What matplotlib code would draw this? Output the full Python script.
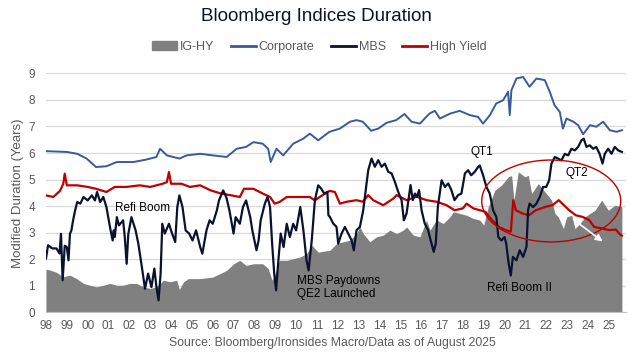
import matplotlib.pyplot as plt
import matplotlib.patches as mpatches
from matplotlib.lines import Line2D

plt.rcParams['font.family'] = ['Liberation Sans', 'DejaVu Sans']

# dates as decimal years, values in years of modified duration
corp_t = [1998.0, 1999.0, 1999.5, 1999.95, 2000.4, 2000.9, 2001.4, 2002.2, 2002.8, 2003.3,
          2003.47, 2003.8, 2004.4, 2004.75, 2005.4, 2006.0, 2006.67, 2007.15, 2007.6, 2007.95,
          2008.4, 2008.66, 2008.78, 2009.06, 2009.38, 2009.86, 2010.34, 2010.66, 2011.06, 2011.6,
          2012.1, 2012.58, 2012.9, 2013.2, 2013.6, 2013.94, 2014.34, 2014.8, 2015.2, 2015.54,
          2015.94, 2016.4, 2016.66, 2016.9, 2017.4, 2017.85, 2018.33, 2018.73, 2018.97, 2019.3,
          2019.6, 2019.93, 2020.17, 2020.25, 2020.33, 2020.57, 2020.89, 2021.2, 2021.53, 2021.93,
          2022.17, 2022.4, 2022.65, 2022.8, 2022.97, 2023.3, 2023.53, 2023.77, 2024.1, 2024.4,
          2024.73, 2025.05, 2025.37, 2025.63]
corp_v = [6.07, 6.04, 5.97, 5.79, 5.47, 5.5, 5.66, 5.66, 5.75, 5.85,
          6.16, 5.91, 5.79, 5.91, 5.97, 5.91, 5.85, 6.16, 6.23, 6.41,
          6.35, 6.16, 5.66, 6.16, 5.91, 6.35, 6.54, 6.73, 6.48, 6.8,
          6.92, 7.18, 7.24, 7.18, 6.84, 6.92, 7.14, 7.24, 7.47, 7.18,
          7.11, 7.49, 7.59, 7.3, 7.49, 7.59, 7.43, 7.36, 7.11, 7.43,
          7.87, 7.99, 8.31, 7.43, 8.37, 8.81, 8.87, 8.5, 8.81, 8.75,
          8.31, 7.8, 7.55, 6.92, 7.3, 7.18, 7.05, 6.71, 7.05, 6.99,
          7.18, 6.86, 6.8, 6.86]

hy_t = [1998.0, 1998.35, 1998.67, 1998.83, 1998.9, 1999.0, 1999.5, 2000.0, 2000.4, 2000.9,
        2001.3, 2001.87, 2002.5, 2003.0, 2003.6, 2003.8, 2003.9, 2004.0, 2004.5, 2004.9,
        2005.4, 2005.9, 2006.4, 2006.9, 2007.3, 2007.5, 2007.95, 2008.4, 2008.75, 2008.97,
        2009.2, 2009.55, 2010.2, 2010.66, 2010.9, 2011.13, 2011.6, 2011.86, 2012.1, 2012.42,
        2012.9, 2013.2, 2013.46, 2013.7, 2014.18, 2014.66, 2014.82, 2015.3, 2015.78, 2016.26,
        2016.74, 2017.22, 2017.6, 2018.0, 2018.18, 2018.5, 2018.82, 2019.08, 2019.4, 2019.73,
        2020.06, 2020.3, 2020.42, 2020.54, 2020.85, 2021.17, 2021.5, 2021.97, 2022.3, 2022.6,
        2022.77, 2023.1, 2023.42, 2023.74, 2024.06, 2024.3, 2024.7, 2025.02, 2025.34, 2025.5,
        2025.63]
hy_v = [4.4, 4.34, 4.57, 4.84, 5.22, 4.78, 4.78, 4.72, 4.65, 4.53,
        4.72, 4.72, 4.78, 4.72, 4.84, 4.9, 5.28, 4.84, 4.84, 4.72,
        4.78, 4.59, 4.47, 4.4, 4.34, 4.65, 4.65, 4.47, 4.34, 4.09,
        4.15, 4.34, 4.34, 4.34, 4.21, 4.34, 4.57, 4.53, 4.09, 4.16,
        4.22, 4.16, 4.41, 4.22, 4.03, 4.28, 4.41, 4.22, 4.35, 4.22,
        4.16, 4.03, 3.84, 3.91, 4.09, 3.91, 3.84, 3.78, 3.47, 3.21,
        3.09, 3.03, 4.22, 3.84, 3.72, 3.65, 3.84, 3.97, 4.03, 4.22,
        4.09, 3.84, 3.65, 3.59, 3.47, 3.21, 3.15, 3.09, 3.11, 2.96,
        2.88]

mbs_t = [1998.0, 1998.1, 1998.3, 1998.5, 1998.65, 1998.72, 1998.8, 1998.9, 1999.0, 1999.08,
         1999.15, 1999.22, 1999.3, 1999.4, 1999.5, 1999.65, 1999.8, 2000.0, 2000.2, 2000.35,
         2000.45, 2000.6, 2000.75, 2000.9, 2001.1, 2001.2, 2001.25, 2001.3, 2001.4, 2001.5,
         2001.7, 2001.78, 2001.87, 2001.95, 2002.1, 2002.3, 2002.43, 2002.6, 2002.75, 2002.9,
         2003.06, 2003.2, 2003.3, 2003.4, 2003.5, 2003.58, 2003.7, 2003.9, 2004.05, 2004.2,
         2004.3, 2004.4, 2004.55, 2004.7, 2004.87, 2005.03, 2005.2, 2005.4, 2005.5, 2005.7,
         2005.85, 2006.0, 2006.2, 2006.3, 2006.5, 2006.65, 2006.8, 2007.0, 2007.1, 2007.3,
         2007.45, 2007.6, 2007.8, 2007.9, 2008.1, 2008.2, 2008.3, 2008.5, 2008.63, 2008.75,
         2008.85, 2008.95, 2009.04, 2009.15, 2009.26, 2009.4, 2009.55, 2009.7, 2009.86, 2010.0,
         2010.2, 2010.35, 2010.5, 2010.6, 2010.75, 2010.9, 2011.06, 2011.2, 2011.35, 2011.5,
         2011.55, 2011.62, 2011.78, 2011.94, 2012.02, 2012.18, 2012.34, 2012.5, 2012.66, 2012.77,
         2012.9, 2013.06, 2013.22, 2013.35, 2013.46, 2013.62, 2013.78, 2013.94, 2014.1, 2014.26,
         2014.42, 2014.58, 2014.74, 2014.9, 2015.06, 2015.17, 2015.3, 2015.41, 2015.49, 2015.6,
         2015.7, 2015.8, 2015.9, 2016.02, 2016.17, 2016.33, 2016.5, 2016.6, 2016.7, 2016.8,
         2016.98, 2017.14, 2017.3, 2017.45, 2017.6, 2017.77, 2017.93, 2018.1, 2018.25, 2018.4,
         2018.57, 2018.73, 2018.81, 2018.97, 2019.13, 2019.29, 2019.45, 2019.61, 2019.7, 2019.85,
         2020.0, 2020.08, 2020.2, 2020.3, 2020.4, 2020.57, 2020.73, 2020.89, 2021.05, 2021.13,
         2021.2, 2021.37, 2021.53, 2021.69, 2021.85, 2022.0, 2022.14, 2022.25, 2022.41, 2022.57,
         2022.73, 2022.89, 2023.05, 2023.21, 2023.37, 2023.53, 2023.69, 2023.8, 2023.93, 2024.09,
         2024.25, 2024.4, 2024.56, 2024.7, 2024.81, 2024.97, 2025.13, 2025.29, 2025.45, 2025.63]
mbs_v = [2.02, 2.52, 2.4, 2.4, 2.21, 2.95, 1.2, 2.5, 2.45, 1.95,
         2.95, 3.08, 3.46, 3.84, 4.15, 4.09, 4.34, 4.21, 4.4, 4.21,
         4.53, 4.15, 4.34, 3.96, 3.08, 2.7, 3.08, 2.83, 3.58, 3.27,
         3.46, 2.83, 1.82, 2.95, 3.58, 3.08, 2.58, 1.7, 0.88, 1.45,
         0.94, 1.64, 0.94, 0.44, 1.45, 3.33, 2.96, 3.33, 2.96, 2.64,
         3.96, 4.4, 3.96, 3.08, 2.96, 2.7, 3.08, 2.45, 2.2, 3.08,
         3.46, 3.33, 3.84, 4.21, 4.59, 4.34, 3.84, 2.96, 3.58, 3.33,
         3.96, 4.21, 3.58, 3.08, 2.33, 2.7, 3.46, 4.09, 4.34, 3.96,
         2.58, 1.45, 0.82, 1.95, 2.96, 2.45, 3.33, 2.83, 3.33, 3.08,
         3.96, 3.08, 1.95, 1.57, 2.7, 4.21, 4.78, 4.66, 4.47, 4.53,
         3.65, 3.59, 3.34, 3.21, 2.58, 2.96, 3.21, 2.96, 2.71, 2.33,
         3.09, 3.21, 3.84, 4.66, 5.35, 5.79, 5.48, 5.73, 5.48, 5.6,
         5.29, 5.23, 4.91, 4.53, 4.22, 3.46, 3.72, 4.35, 4.79, 4.22,
         4.47, 4.35, 4.6, 3.84, 3.34, 3.09, 2.58, 2.27, 2.58, 3.97,
         4.97, 4.72, 4.85, 4.6, 4.22, 4.41, 4.47, 5.23, 5.35, 5.16,
         5.29, 5.47, 5.53, 5.16, 4.72, 4.47, 3.84, 3.58, 2.83, 2.7,
         2.83, 2.58, 1.82, 1.38, 2.08, 1.95, 2.33, 2.08, 2.45, 3.84,
         4.09, 3.96, 4.09, 4.34, 4.72, 4.72, 4.97, 5.6, 5.85, 5.79,
         5.72, 5.97, 5.91, 6.16, 6.1, 6.23, 6.48, 6.54, 6.23, 6.29,
         6.16, 6.23, 5.97, 5.6, 5.97, 6.16, 5.97, 6.23, 6.1, 6.04]

ighy_t = [1998.0, 1998.2, 1998.5, 1998.83, 1999.15, 1999.47, 1999.8, 2000.1, 2000.43, 2000.75,
          2001.07, 2001.4, 2001.7, 2002.03, 2002.35, 2002.67, 2003.0, 2003.3, 2003.63, 2003.95,
          2004.27, 2004.4, 2004.6, 2004.83, 2005.4, 2006.0, 2006.67, 2007.0, 2007.3, 2007.6,
          2007.95, 2008.4, 2008.66, 2008.85, 2009.0, 2009.2, 2009.55, 2009.86, 2010.2, 2010.5,
          2010.75, 2011.06, 2011.62, 2011.94, 2012.26, 2012.58, 2012.9, 2013.06, 2013.22, 2013.54,
          2013.86, 2014.18, 2014.5, 2014.82, 2015.14, 2015.3, 2015.62, 2015.94, 2016.26, 2016.42,
          2016.74, 2017.06, 2017.38, 2017.54, 2017.86, 2018.18, 2018.5, 2018.81, 2019.0, 2019.22,
          2019.54, 2019.86, 2020.18, 2020.34, 2020.45, 2020.66, 2020.98, 2021.14, 2021.3, 2021.62,
          2021.94, 2022.26, 2022.42, 2022.58, 2022.82, 2022.98, 2023.22, 2023.38, 2023.62, 2023.86,
          2024.1, 2024.34, 2024.66, 2024.98, 2025.3, 2025.63]
ighy_v = [1.62, 1.58, 1.5, 1.33, 1.39, 1.26, 1.08, 1.01, 0.95, 1.01,
          1.08, 1.01, 1.01, 1.08, 1.08, 0.95, 0.89, 0.95, 1.2, 1.14,
          1.2, 0.85, 1.14, 1.26, 1.26, 1.32, 1.57, 1.82, 1.95, 1.76,
          1.82, 1.82, 1.64, 1.2, 1.45, 1.95, 1.95, 2.01, 2.08, 2.2,
          2.52, 2.26, 2.33, 2.58, 2.65, 2.71, 2.96, 3.21, 2.96, 2.65,
          2.84, 2.9, 3.09, 2.96, 3.09, 3.21, 2.9, 2.84, 3.47, 3.09,
          3.47, 3.34, 3.59, 3.78, 3.72, 3.65, 3.53, 3.47, 3.28, 3.97,
          4.6, 4.79, 5.1, 5.15, 4.22, 5.29, 5.1, 5.16, 4.47, 4.85,
          4.53, 4.22, 3.72, 3.59, 3.15, 3.59, 3.65, 3.15, 3.34, 3.59,
          3.72, 3.84, 4.22, 3.84, 4.03, 3.97]

year_ticks = list(range(1998, 2026))
year_labels = ['%02d' % (y % 100) for y in year_ticks]

grey_txt = '#595959'
c_corp = '#3A5A9B'
c_mbs = '#0B1230'
c_hy = '#C00000'
c_area = '#808080'

fig = plt.figure(figsize=(6.29, 3.53), dpi=100)
ax = fig.add_axes([0.0731, 0.1161, 0.9219, 0.6757])

ax.fill_between(ighy_t, ighy_v, 0, color=c_area, linewidth=0, zorder=2)
ax.plot(corp_t, corp_v, color=c_corp, lw=1.4, zorder=3)
ax.plot(hy_t, hy_v, color=c_hy, lw=1.6, zorder=4)
ax.plot(mbs_t, mbs_v, color=c_mbs, lw=1.6, zorder=5)

ax.set_xlim(1998.0, 2025.82)
ax.set_ylim(0, 9)
ax.set_yticks(range(0, 10))
ax.set_xticks(year_ticks)
ax.set_xticklabels(year_labels)
ax.tick_params(axis='both', length=0, labelsize=8.5, colors=grey_txt)
ax.tick_params(axis='y', pad=8)
ax.tick_params(axis='x', pad=6)
ax.grid(axis='y', color='#D9D9D9', lw=0.9, zorder=0)
ax.set_axisbelow(True)
for s in ['top', 'right', 'left']:
    ax.spines[s].set_visible(False)
ax.spines['bottom'].set_color('#BFBFBF')
ax.set_ylabel('Modified Duration (Years)', fontsize=9.5, color=grey_txt, labelpad=3)

# annotations
ax.text(2001.3, 3.92, 'Refi Boom', fontsize=8.5, color='black', va='center', zorder=6)
ax.text(2010.04, 0.92, 'MBS Paydowns\nQE2 Launched', fontsize=8.5, color='black',
        va='center', linespacing=1.1, zorder=6)
ax.text(2018.9, 6.04, 'QT1', fontsize=8.5, color='black', ha='center', va='center', zorder=6)
ax.text(2023.47, 5.25, 'QT2', fontsize=8.5, color='black', ha='center', va='center', zorder=6)
ax.text(2020.73, 0.9, 'Refi Boom II', fontsize=8.5, color='black', ha='center', va='center', zorder=6)
ax.add_patch(mpatches.Ellipse((2022.24, 4.19), 6.67, 3.09, fill=False,
                              edgecolor=c_hy, lw=1.0, zorder=6))
ax.annotate('', xy=(2024.81, 2.6), xytext=(2023.21, 3.55),
            arrowprops=dict(arrowstyle='-|>', color='white', lw=1.2), zorder=7)

handles = [mpatches.Patch(color=c_area, label='IG-HY'),
           Line2D([], [], color=c_corp, lw=2, label='Corporate'),
           Line2D([], [], color=c_mbs, lw=2, label='MBS'),
           Line2D([], [], color=c_hy, lw=2, label='High Yield')]
fig.legend(handles=handles, loc='center', bbox_to_anchor=(0.508, 0.867), ncol=4,
           frameon=False, fontsize=9, handlelength=2.0, handletextpad=0.25,
           columnspacing=1.3, labelcolor=grey_txt)

fig.text(0.503, 0.953, 'Bloomberg Indices Duration', ha='center', va='center',
         fontsize=13.5, color='#0B1230')
fig.text(0.528, 0.028, 'Source: Bloomberg/Ironsides Macro/Data as of August 2025',
         ha='center', va='center', fontsize=8.8, color=grey_txt)

fig.savefig('out.png', dpi=100)
